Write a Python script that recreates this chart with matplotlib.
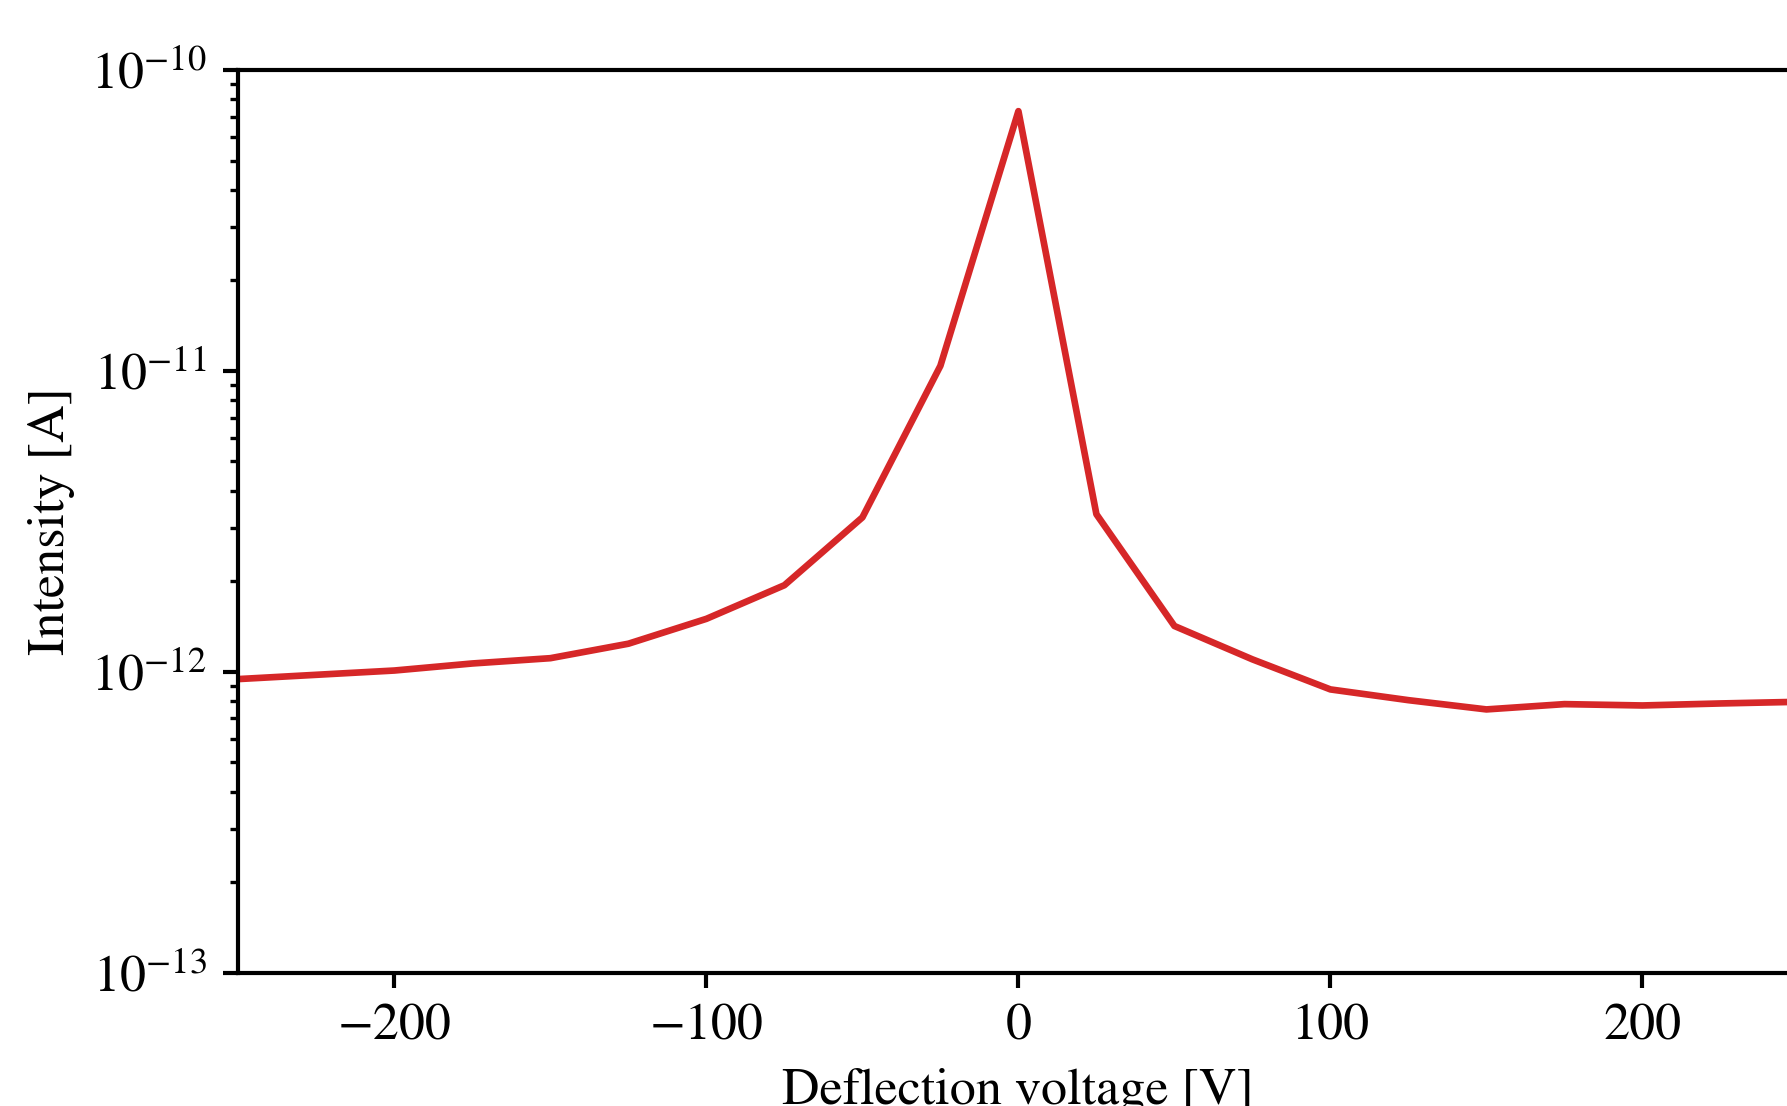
import matplotlib
matplotlib.use("Agg")
import matplotlib.pyplot as plt
import numpy as np

plt.rcParams["font.family"] = "STIXGeneral"
plt.rcParams["mathtext.fontset"] = "stix"

# Deflection voltage steps [V] and measured beam current [A]
voltage = [-250, -200, -175, -150, -125, -100, -75, -50, -25, 0,
           25, 50, 75, 100, 125, 150, 175, 200, 225, 250]
intensity = [9.46e-13, 1.01e-12, 1.066e-12, 1.11e-12, 1.24e-12, 1.50e-12, 1.94e-12, 3.26e-12, 1.04e-11, 7.3e-11,
             3.34e-12, 1.42e-12, 1.10e-12, 8.74e-13, 8.05e-13, 7.5e-13, 7.81e-13, 7.73e-13, 7.85e-13, 7.95e-13]

fig = plt.figure(figsize=(1787 / 300, 1106 / 300), dpi=300)
ax = fig.add_axes([0.1334, 0.1205, 0.873, 0.8162])

ax.plot(voltage, intensity, color="#d62728", linewidth=1.6)

ax.set_yscale("log")
ax.set_xlim(-250, 250)
ax.set_ylim(1e-13, 1e-10)
ax.set_xticks([-200, -100, 0, 100, 200])

ax.tick_params(which="major", labelsize=12.5, length=3.6, width=1.0, pad=4)
ax.tick_params(which="minor", length=2, width=0.8)
for s in ax.spines.values():
    s.set_linewidth(1.0)

ax.set_xlabel("Deflection voltage [V]", fontsize=12.5)
ax.set_ylabel("Intensity [A]", fontsize=12.5)

fig.savefig("out.png", dpi=300)
